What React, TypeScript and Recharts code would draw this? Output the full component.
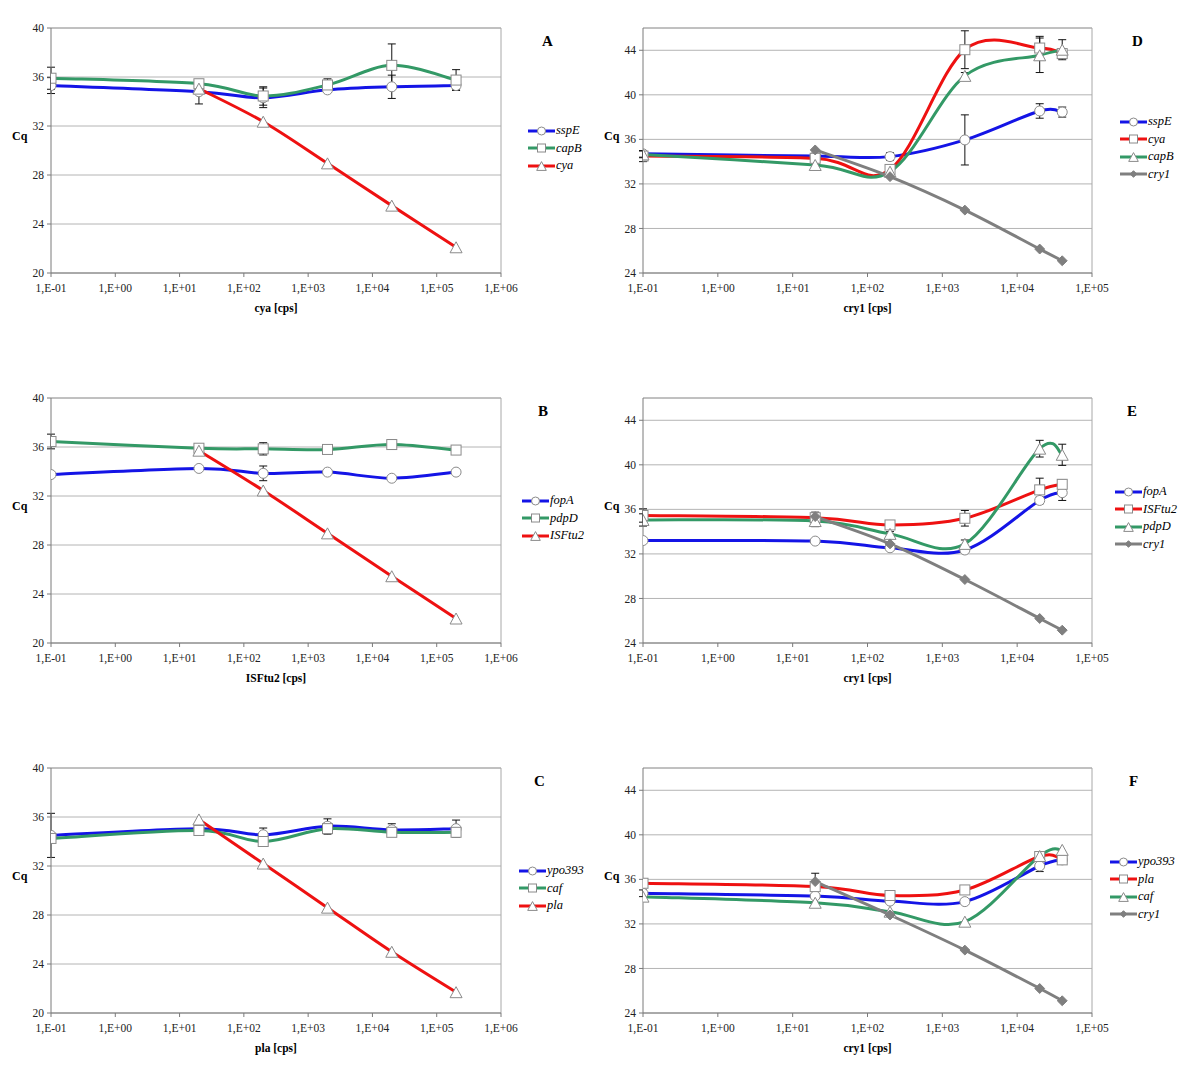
import { LineChart, Line, XAxis, YAxis, CartesianGrid, ErrorBar, ReferenceLine } from 'recharts'

const SERIF = '"Liberation Serif", "Times New Roman", serif'

// copies per sample (x positions)
const xLeft = [0.1, 20, 200, 2000, 20000, 200000]
const xRight = [0.1, 20, 200, 2000, 20000, 40000]
const xTicksLeft = [0.1, 1, 10, 100, 1000, 10000, 100000, 1000000]
const xTicksRight = [0.1, 1, 10, 100, 1000, 10000, 100000]
const cqTicksLeft = [20, 24, 28, 32, 36, 40]
const cqTicksRight = [24, 28, 32, 36, 40, 44]

// A
const sspE_A = [35.3, 34.8, 34.3, 34.95, 35.2, 35.3]
const capB_A = [35.9, 35.45, 34.45, 35.35, 36.95, 35.75]
const cya_A = [null, 35.05, 32.35, 28.95, 25.5, 22.1]
const sspE_A_err = [0.65, 1.0, 0.8, 0.15, 0.95, 0.35]
const capB_A_err = [0.9, 0.3, 0.75, 0.5, 1.75, 0.85]

// B
const fopA_B = [33.75, 34.25, 33.85, 33.95, 33.45, 33.95]
const pdpD_B = [36.45, 35.9, 35.85, 35.8, 36.2, 35.75]
const ISFtu2_B = [null, 35.7, 32.45, 28.95, 25.45, 22.0]
const fopA_B_err = [null, null, 0.6, null, null, null]
const pdpD_B_err = [0.6, 0.15, 0.5, 0.15, 0.4, 0.15]

// C
const ypo393_C = [34.5, 35.05, 34.55, 35.25, 34.95, 35.05]
const caf_C = [34.25, 34.9, 34.0, 35.05, 34.75, 34.75]
const pla_C = [null, 35.8, 32.2, 28.6, 25.0, 21.7]
const ypo393_C_err = [1.8, null, 0.55, 0.6, 0.5, 0.7]
const caf_C_err = [null, 0.2, 0.3, 0.45, 0.2, 0.3]

// D
const sspE_D = [34.7, 34.5, 34.45, 35.95, 38.55, 38.45]
const cya_D = [34.5, 34.3, 33.3, 44.05, 44.2, 43.7]
const capB_D = [34.65, 33.7, 33.1, 41.7, 43.55, 44.05]
const cry1_D = [null, 35.05, 32.65, 29.65, 26.15, 25.1]
const sspE_D_err = [0.3, 0.2, 0.35, 2.25, 0.65, 0.45]
const cya_D_err = [0.5, 0.3, 0.3, 1.7, 1.05, 0.4]
const capB_D_err = [0.3, 0.2, 0.2, 0.3, 1.55, 0.9]

// E
const fopA_E = [33.2, 33.15, 32.55, 32.35, 36.8, 37.5]
const ISFtu2_E = [35.45, 35.25, 34.6, 35.2, 37.75, 38.25]
const pdpD_E = [35.05, 34.95, 33.8, 32.9, 41.45, 40.9]
const cry1_E = [null, 35.35, 32.9, 29.7, 26.2, 25.15]
const fopA_E_err = [null, null, null, null, 0.3, 0.7]
const ISFtu2_E_err = [0.6, 0.5, 0.2, 0.7, 1.05, 0.4]
const pdpD_E_err = [0.55, 0.5, 0.2, 0.35, 0.75, 0.95]

// F
const ypo393_F = [34.75, 34.5, 34.05, 34.0, 37.2, 37.75]
const pla_F = [35.65, 35.35, 34.55, 35.05, 38.05, 37.75]
const caf_F = [34.45, 33.9, 33.1, 32.2, 38.1, 38.65]
const cry1_F = [null, 35.8, 32.8, 29.65, 26.2, 25.1]
const ypo393_F_err = [0.3, null, null, null, 0.5, null]
const cry1_F_err = [null, 0.75, null, null, null, null]

const BLUE = '#1414e6'
const GREEN = '#339966'
const RED = '#ee1111'
const GRAY = '#7f7f7f'

type Kind = 'circle' | 'square' | 'triangle' | 'diamond'
type Series = { name: string; values: (number | null)[]; err?: (number | null)[]; color: string; kind: Kind }

// Excel-like smoothed line (cardinal spline through the points)
function excelCurve(context: any) {
  let pts: number[][] = []
  return {
    areaStart() {},
    areaEnd() {},
    lineStart() { pts = [] },
    lineEnd() {
      if (!pts.length) return
      context.moveTo(pts[0][0], pts[0][1])
      for (let i = 0; i < pts.length - 1; i++) {
        const p0 = pts[i - 1] || pts[i]
        const p1 = pts[i]
        const p2 = pts[i + 1]
        const p3 = pts[i + 2] || p2
        context.bezierCurveTo(
          p1[0] + (p2[0] - p0[0]) / 6, p1[1] + (p2[1] - p0[1]) / 6,
          p2[0] - (p3[0] - p1[0]) / 6, p2[1] - (p3[1] - p1[1]) / 6,
          p2[0], p2[1]
        )
      }
    },
    point(x: number, y: number) { pts.push([+x, +y]) },
  }
}

function Marker({ kind, cx, cy, s }: { kind: Kind; cx: number; cy: number; s: number }) {
  const stroke = '#8a8a8a'
  if (kind === 'circle') return <circle cx={cx} cy={cy} r={s / 2} fill="#fff" stroke={stroke} />
  if (kind === 'square') return <rect x={cx - s / 2} y={cy - s / 2} width={s} height={s} fill="#fff" stroke={stroke} />
  if (kind === 'triangle') {
    const h = s * 0.55
    return <polygon points={`${cx},${cy - h} ${cx - s * 0.6},${cy + h} ${cx + s * 0.6},${cy + h}`} fill="#fff" stroke={stroke} />
  }
  const d = s * 0.55
  return <polygon points={`${cx},${cy - d} ${cx + d},${cy} ${cx},${cy + d} ${cx - d},${cy}`} fill={GRAY} stroke={GRAY} />
}

const fmtTick = (v: number) => {
  const e = Math.round(Math.log10(v))
  return `1,E${e < 0 ? '-' : '+'}${String(Math.abs(e)).padStart(2, '0')}`
}

type PanelProps = {
  left: number
  top: number
  letter: string
  letterX: number
  xTitle: string
  xs: number[]
  xTicks: number[]
  yDomain: [number, number]
  yTicks: number[]
  series: Series[]
  right: boolean
  legendX: number
}

function Panel({ left, top, letter, letterX, xTitle, xs, xTicks, yDomain, yTicks, series, right, legendX }: PanelProps) {
  const data = xs.map((x, i) => {
    const row: Record<string, number | null> = { x }
    series.forEach((s, k) => {
      row['s' + k] = s.values[i]
      row['e' + k] = s.err ? s.err[i] : null
    })
    return row
  })
  const plotLeft = right ? 43 : 51
  const plotRight = right ? 492 : 501
  const xMax = xTicks[xTicks.length - 1]
  const tickStyle = { fill: '#222', fontSize: 11.5, fontFamily: SERIF }
  const legendTop = 148 - (series.length * 17.5) / 2
  return (
    <div style={{ position: 'absolute', left, top, width: 600, height: 345, fontFamily: SERIF }}>
      <LineChart width={600} height={345} data={data} margin={{ top: 28, right: 600 - plotRight, bottom: 42, left: plotLeft - 40 }}>
        <CartesianGrid horizontal vertical={false} stroke="#b4b4b4" />
        <XAxis
          dataKey="x"
          type="number"
          scale="log"
          domain={[0.1, xMax]}
          ticks={xTicks}
          allowDataOverflow
          interval={0}
          tickFormatter={fmtTick}
          height={30}
          tickSize={4}
          tickMargin={7}
          axisLine={{ stroke: '#7a7a7a' }}
          tickLine={{ stroke: '#7a7a7a' }}
          tick={tickStyle}
        />
        <YAxis
          type="number"
          domain={yDomain}
          ticks={yTicks}
          allowDataOverflow
          interval={0}
          width={40}
          tickSize={4}
          tickMargin={3}
          axisLine={{ stroke: '#7a7a7a' }}
          tickLine={{ stroke: '#7a7a7a' }}
          tick={tickStyle}
        />
        <ReferenceLine y={yDomain[1]} stroke="#a8a8a8" />
        <ReferenceLine x={xMax} stroke="#a8a8a8" />
        {series.map((s, k) => (
          <Line
            key={s.name}
            dataKey={'s' + k}
            type={excelCurve as any}
            stroke={s.color}
            strokeWidth={3}
            isAnimationActive={false}
            activeDot={false}
            dot={(p: any) =>
              p.cx == null || p.cy == null || p.value == null ? (
                <g key={`d-${k}-${p.index}`} />
              ) : (
                <g key={`d-${k}-${p.index}`}>
                  <Marker kind={s.kind} cx={p.cx} cy={p.cy} s={s.kind === 'diamond' ? 9 : 10} />
                </g>
              )
            }
          >
            {s.err && <ErrorBar dataKey={'e' + k} direction="y" width={4} stroke="#111" strokeWidth={1} />}
          </Line>
        ))}
      </LineChart>
      <div style={{ position: 'absolute', left: right ? 4 : 12, top: 129, fontSize: 12, fontWeight: 'bold' }}>Cq</div>
      <div style={{ position: 'absolute', left: letterX - 6, top: 33, fontSize: 15, fontWeight: 'bold' }}>{letter}</div>
      <div
        style={{
          position: 'absolute',
          left: plotLeft,
          width: plotRight - plotLeft,
          top: 302,
          textAlign: 'center',
          fontSize: 11.5,
          fontWeight: 'bold',
        }}
      >
        {xTitle}
      </div>
      <div style={{ position: 'absolute', left: legendX, top: legendTop }}>
        {series.map((s) => (
          <div key={s.name} style={{ display: 'flex', alignItems: 'center', height: 17.5 }}>
            <svg width={27} height={12}>
              <line x1={0} y1={6} x2={27} y2={6} stroke={s.color} strokeWidth={3} />
              <Marker kind={s.kind} cx={13.5} cy={6} s={s.kind === 'diamond' ? 6 : 8} />
            </svg>
            <span style={{ fontStyle: 'italic', fontSize: 12.5, marginLeft: 1 }}>{s.name}</span>
          </div>
        ))}
      </div>
    </div>
  )
}

export default function App() {
  return (
    <div style={{ position: 'absolute', left: 0, top: 0, width: 1200, height: 1089, overflow: 'hidden', background: '#fff' }}>
      <Panel
        left={0} top={0} letter="A" letterX={548} xTitle="cya [cps]" xs={xLeft} xTicks={xTicksLeft}
        yDomain={[20, 40]} yTicks={cqTicksLeft} right={false} legendX={528}
        series={[
          { name: 'sspE', values: sspE_A, err: sspE_A_err, color: BLUE, kind: 'circle' },
          { name: 'capB', values: capB_A, err: capB_A_err, color: GREEN, kind: 'square' },
          { name: 'cya', values: cya_A, color: RED, kind: 'triangle' },
        ]}
      />
      <Panel
        left={0} top={370} letter="B" letterX={544} xTitle="ISFtu2 [cps]" xs={xLeft} xTicks={xTicksLeft}
        yDomain={[20, 40]} yTicks={cqTicksLeft} right={false} legendX={522}
        series={[
          { name: 'fopA', values: fopA_B, err: fopA_B_err, color: BLUE, kind: 'circle' },
          { name: 'pdpD', values: pdpD_B, err: pdpD_B_err, color: GREEN, kind: 'square' },
          { name: 'ISFtu2', values: ISFtu2_B, color: RED, kind: 'triangle' },
        ]}
      />
      <Panel
        left={0} top={740} letter="C" letterX={540} xTitle="pla [cps]" xs={xLeft} xTicks={xTicksLeft}
        yDomain={[20, 40]} yTicks={cqTicksLeft} right={false} legendX={519}
        series={[
          { name: 'ypo393', values: ypo393_C, err: ypo393_C_err, color: BLUE, kind: 'circle' },
          { name: 'caf', values: caf_C, err: caf_C_err, color: GREEN, kind: 'square' },
          { name: 'pla', values: pla_C, color: RED, kind: 'triangle' },
        ]}
      />
      <Panel
        left={600} top={0} letter="D" letterX={538} xTitle="cry1 [cps]" xs={xRight} xTicks={xTicksRight}
        yDomain={[24, 46]} yTicks={cqTicksRight} right legendX={520}
        series={[
          { name: 'sspE', values: sspE_D, err: sspE_D_err, color: BLUE, kind: 'circle' },
          { name: 'cya', values: cya_D, err: cya_D_err, color: RED, kind: 'square' },
          { name: 'capB', values: capB_D, err: capB_D_err, color: GREEN, kind: 'triangle' },
          { name: 'cry1', values: cry1_D, color: GRAY, kind: 'diamond' },
        ]}
      />
      <Panel
        left={600} top={370} letter="E" letterX={533} xTitle="cry1 [cps]" xs={xRight} xTicks={xTicksRight}
        yDomain={[24, 46]} yTicks={cqTicksRight} right legendX={515}
        series={[
          { name: 'fopA', values: fopA_E, err: fopA_E_err, color: BLUE, kind: 'circle' },
          { name: 'ISFtu2', values: ISFtu2_E, err: ISFtu2_E_err, color: RED, kind: 'square' },
          { name: 'pdpD', values: pdpD_E, err: pdpD_E_err, color: GREEN, kind: 'triangle' },
          { name: 'cry1', values: cry1_E, color: GRAY, kind: 'diamond' },
        ]}
      />
      <Panel
        left={600} top={740} letter="F" letterX={535} xTitle="cry1 [cps]" xs={xRight} xTicks={xTicksRight}
        yDomain={[24, 46]} yTicks={cqTicksRight} right legendX={510}
        series={[
          { name: 'ypo393', values: ypo393_F, err: ypo393_F_err, color: BLUE, kind: 'circle' },
          { name: 'pla', values: pla_F, color: RED, kind: 'square' },
          { name: 'caf', values: caf_F, color: GREEN, kind: 'triangle' },
          { name: 'cry1', values: cry1_F, err: cry1_F_err, color: GRAY, kind: 'diamond' },
        ]}
      />
    </div>
  )
}
